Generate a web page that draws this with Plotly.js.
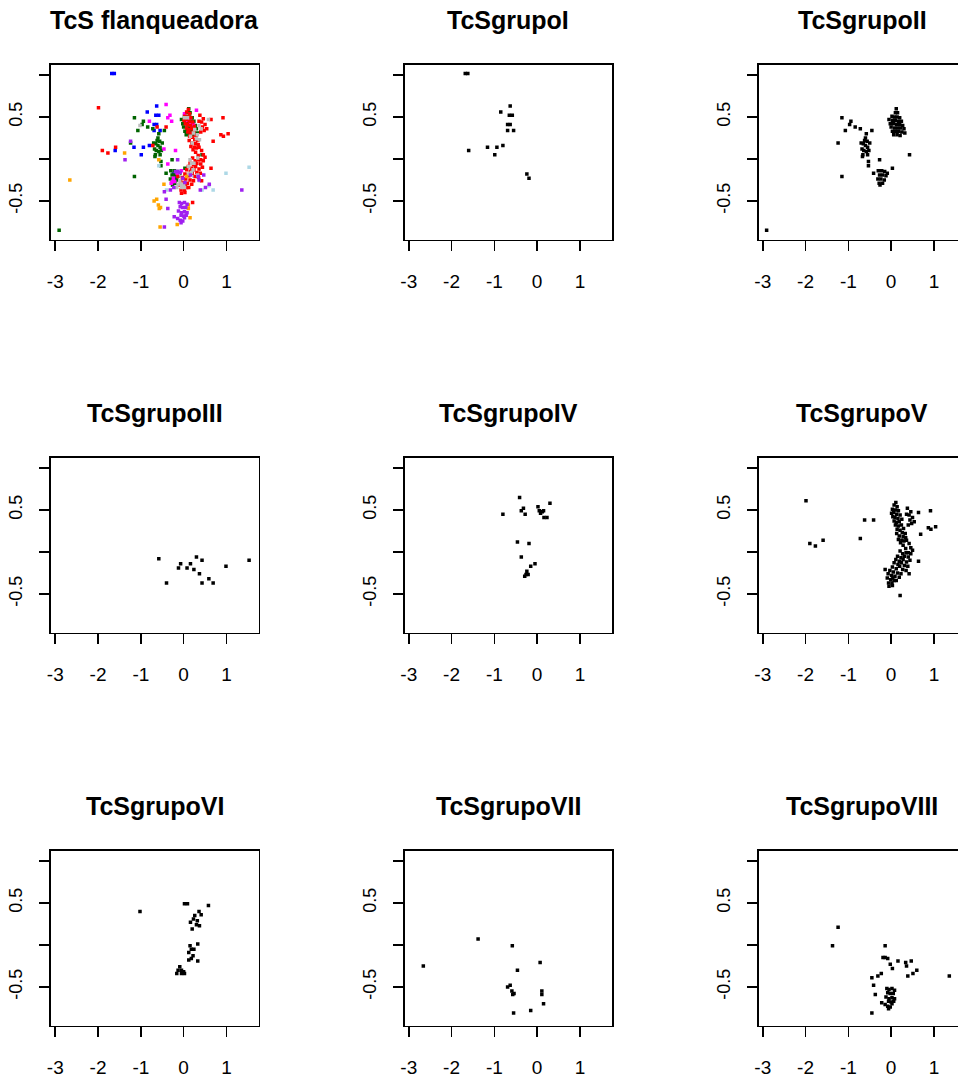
<!DOCTYPE html>
<html>
<head>
<meta charset="utf-8">
<script src="https://cdn.plot.ly/plotly-3.0.1.min.js"></script>
<style>
html, body { margin: 0; padding: 0; overflow: hidden; background: #fff; }
#chart { width: 970px; height: 1078px; }
</style>
</head>
<body>
<div id="chart"></div>
<script>
// ---------------- DATA ----------------
const panelTitles = ['TcS flanqueadora', 'TcSgrupoI', 'TcSgrupoII', 'TcSgrupoIII', 'TcSgrupoIV',
                     'TcSgrupoV', 'TcSgrupoVI', 'TcSgrupoVII', 'TcSgrupoVIII'];
const xTickVals = [-3, -2, -1, 0, 1];
const xTickText = ['-3', '-2', '-1', '0', '1'];
const yTickVals = [-0.5, 0, 0.5, 1];
const yTickText = ['-0.5', '', '0.5', ''];

// Grupo I
const xI = [-1.68, -1.62, -0.63, -0.85, -0.65, -0.58, -0.69, -0.63, -0.69, -0.55, -1.60, -1.16, -0.94, -0.80, -0.99, -0.24, -0.19];
const yI = [1.02, 1.02, 0.63, 0.56, 0.52, 0.52, 0.41, 0.41, 0.34, 0.34, 0.10, 0.14, 0.14, 0.16, 0.05, -0.18, -0.23];

// Grupo II
const xII = [-2.91, -1.15, -0.94, -0.97, -1.07, -0.84, -0.72, -0.45, -0.58, -1.24, -1.15, -0.67, -0.53, -0.53, -0.27, -0.41, 0.03, 0.43,
  -0.60, -0.65, -0.55, -0.62, -0.56, -0.68, -0.52, -0.58, -0.64, -0.70, -0.50, -0.60, -0.55, -0.66,
  -0.30, -0.22, -0.15, -0.27, -0.20, -0.12, -0.31, -0.24, -0.16, -0.28, -0.20, -0.26, -0.09,
  0.12, 0.10, 0.15, 0.02, 0.08, 0.14, 0.20, -0.05, 0.03, 0.10, 0.17, 0.24, -0.02, 0.06, 0.13, 0.20, 0.27, 0.00, 0.08, 0.15, 0.22, 0.30, 0.03, 0.10, 0.17, 0.25, 0.06, 0.14, 0.21, 0.32];
const yII = [-0.85, 0.49, 0.45, 0.41, 0.34, 0.38, 0.36, 0.34, 0.30, 0.19, -0.21, 0.03, -0.03, -0.08, -0.01, -0.17, -0.11, 0.05,
  0.16, 0.18, 0.14, 0.22, 0.21, 0.12, 0.10, 0.09, 0.10, 0.19, 0.19, 0.25, 0.05, 0.05,
  -0.14, -0.14, -0.15, -0.19, -0.19, -0.20, -0.24, -0.24, -0.25, -0.29, -0.29, -0.31, -0.17,
  0.60, 0.55, 0.55, 0.51, 0.50, 0.50, 0.49, 0.47, 0.46, 0.46, 0.45, 0.45, 0.42, 0.42, 0.41, 0.41, 0.40, 0.38, 0.37, 0.37, 0.37, 0.36, 0.33, 0.33, 0.33, 0.32, 0.29, 0.29, 0.28, 0.31];

// Grupo III
const xIII = [-0.58, -0.40, -0.12, -0.07, 0.08, 0.16, 0.30, 0.24, 0.43, 0.37, 0.43, 0.59, 0.69, 0.99, 1.53];
const yIII = [-0.08, -0.37, -0.19, -0.14, -0.19, -0.14, -0.06, -0.21, -0.10, -0.26, -0.37, -0.32, -0.37, -0.17, -0.10];

// Grupo IV
const xIV = [-0.41, 0.30, -0.80, -0.37, -0.32, -0.28, 0.02, 0.05, 0.12, 0.15, 0.16, 0.23, 0.08, -0.46, -0.19, -0.37, -0.15, -0.05, -0.24, -0.21, -0.29, -0.26];
const yIV = [0.65, 0.58, 0.45, 0.49, 0.52, 0.45, 0.54, 0.49, 0.48, 0.49, 0.41, 0.41, 0.46, 0.12, 0.10, -0.06, -0.17, -0.14, -0.23, -0.27, -0.29, -0.27];

// Grupo V
const xV = [-1.99, -1.90, -1.77, -1.59, -0.72, -0.62, -0.41,
  0.11, 0.07, 0.14, 0.03, 0.10, 0.17, 0.01, 0.06, 0.13, 0.21, 0.04, 0.09, 0.16, 0.25, 0.07, 0.12, 0.19, 0.10, 0.17, 0.24, 0.29, 0.14, 0.21, 0.26, 0.33, 0.13, 0.19, 0.28, 0.17, 0.25, 0.34, 0.22,
  0.38, 0.36, 0.42, 0.46, 0.50, 0.44, 0.54, 0.64, 0.48, 0.40,
  0.92, 0.87, 0.93, 1.04, 0.69,
  0.30, 0.36, 0.42, 0.28, 0.46, 0.34, 0.50, 0.40,
  0.21, 0.27, 0.35, 0.15, 0.23, 0.31, 0.40, 0.46, 0.11, 0.19, 0.28, 0.36, 0.44, 0.07, 0.16, 0.24, 0.31, 0.39, 0.03, 0.12, 0.20, 0.27, 0.35,
  -0.03, 0.05, 0.15, 0.23, -0.07, 0.01, 0.09, 0.19, -0.09, -0.01, 0.07, -0.06, 0.02, 0.12, -0.05, 0.03, 0.04,
  0.64, 0.42, 0.21, -0.14];
const yV = [0.61, 0.10, 0.07, 0.14, 0.16, 0.38, 0.38,
  0.59, 0.56, 0.54, 0.51, 0.50, 0.49, 0.46, 0.47, 0.45, 0.44, 0.42, 0.41, 0.40, 0.39, 0.37, 0.35, 0.36, 0.32, 0.31, 0.32, 0.28, 0.27, 0.26, 0.23, 0.22, 0.22, 0.19, 0.18, 0.15, 0.14, 0.17, 0.11,
  0.52, 0.45, 0.44, 0.48, 0.41, 0.38, 0.36, 0.47, 0.34, 0.32,
  0.49, 0.29, 0.27, 0.30, 0.21,
  0.13, 0.14, 0.10, 0.08, 0.05, 0.04, 0.02, -0.01,
  0.01, -0.02, -0.01, -0.05, -0.07, -0.05, -0.06, -0.02, -0.09, -0.11, -0.09, -0.12, -0.10, -0.13, -0.15, -0.13, -0.16, -0.17, -0.18, -0.20, -0.17, -0.21, -0.22,
  -0.22, -0.24, -0.25, -0.26, -0.26, -0.28, -0.29, -0.30, -0.31, -0.33, -0.34, -0.37, -0.37, -0.34, -0.41, -0.40, -0.31,
  -0.11, -0.26, -0.52, -0.21];

// Grupo VI
const xVI = [-1.02, 0.02, 0.09, 0.58, 0.36, 0.41, 0.26, 0.23, 0.16, 0.32, 0.30, 0.37, 0.20, 0.15, 0.18, 0.24, 0.33, 0.12, 0.22, 0.12, 0.18, 0.33, -0.09, -0.13, -0.05, 0.00, -0.16, 0.02, -0.05];
const yVI = [0.40, 0.49, 0.49, 0.47, 0.40, 0.36, 0.35, 0.31, 0.27, 0.29, 0.24, 0.23, 0.19, -0.01, -0.05, -0.05, 0.01, -0.09, -0.13, -0.18, -0.16, -0.19, -0.26, -0.30, -0.30, -0.32, -0.34, -0.34, -0.34];

// Grupo VII
const xVII = [-2.66, -1.38, -0.58, 0.07, -0.46, -0.69, -0.63, -0.59, -0.57, -0.54, 0.11, 0.11, 0.15, -0.15, -0.55];
const yVII = [-0.25, 0.07, -0.01, -0.21, -0.30, -0.50, -0.48, -0.55, -0.59, -0.58, -0.55, -0.59, -0.70, -0.78, -0.81];

// Grupo VIII
const xVIII = [-1.24, -1.37, -0.14, -0.19, -0.14, -0.08, -0.02, 0.03, 0.16, 0.34, 0.36, 0.47, 0.60, 0.51, 0.39, 1.36, -0.23, -0.31, -0.45, -0.41, -0.37, -0.45,
  -0.10, -0.05, 0.02, 0.08, -0.08, -0.02, 0.05, -0.12, -0.05, 0.02, -0.06, 0.00, 0.06, -0.22, -0.14, -0.08, -0.02, -0.06, 0.02, 0.08];
const yVIII = [0.21, -0.01, -0.01, -0.15, -0.15, -0.16, -0.23, -0.28, -0.19, -0.21, -0.25, -0.19, -0.30, -0.34, -0.37, -0.37, -0.34, -0.37, -0.39, -0.48, -0.59, -0.81,
  -0.52, -0.53, -0.52, -0.54, -0.57, -0.58, -0.58, -0.62, -0.64, -0.63, -0.67, -0.68, -0.67, -0.69, -0.71, -0.73, -0.74, -0.76, -0.70, -0.64];

const groupsX = [xI, xII, xIII, xIV, xV, xVI, xVII, xVIII];
const groupsY = [yI, yII, yIII, yIV, yV, yVI, yVII, yVIII];
const groupColors = ['#0000FF', '#006400', '#ADD8E6', '#FF00FF', '#FF0000', '#BEBEBE', '#FFA500', '#A020F0'];

// ---------------- LAYOUT ----------------
const W = 970, H = 1078;
const colLeft = [51, 404.5, 758.5];
const rowTop = [65, 458, 851];
const boxW = 207.5, boxH = 174.5;
const titleOffset = 45;
const xRange = [-3.10, 1.75];
const yRange = [-0.96, 1.12];
const font = 'Liberation Sans, Arial, sans-serif';

const traces = [];
const layout = {
  width: W, height: H,
  margin: {l: 0, r: 0, t: 0, b: 0},
  paper_bgcolor: '#fff', plot_bgcolor: '#fff',
  showlegend: false,
  annotations: []
};

for (let k = 1; k <= 9; k++) {
  const r = Math.floor((k - 1) / 3), c = (k - 1) % 3;
  const sfx = k === 1 ? '' : String(k);
  layout['xaxis' + sfx] = {
    domain: [colLeft[c] / W, (colLeft[c] + boxW) / W],
    anchor: 'y' + sfx, range: xRange,
    tickmode: 'array', tickvals: xTickVals, ticktext: xTickText, tickangle: 0,
    ticks: 'outside', ticklen: 10, tickwidth: 1.6, tickcolor: '#000',
    showline: true, linewidth: 1.8, linecolor: '#000', mirror: true,
    showgrid: false, zeroline: false, fixedrange: true,
    ticklabelstandoff: 14,
    tickfont: {family: font, size: 19, color: '#000'}
  };
  layout['yaxis' + sfx] = {
    domain: [1 - (rowTop[r] + boxH) / H, 1 - rowTop[r] / H],
    anchor: 'x' + sfx, range: yRange,
    tickmode: 'array', tickvals: yTickVals, ticktext: yTickText, tickangle: -90,
    ticks: 'outside', ticklen: 10, tickwidth: 1.6, tickcolor: '#000',
    showline: true, linewidth: 1.8, linecolor: '#000', mirror: true,
    showgrid: false, zeroline: false, fixedrange: true,
    ticklabelstandoff: 10,
    tickfont: {family: font, size: 18, color: '#000'}
  };
  layout.annotations.push({
    text: '<b>' + panelTitles[k - 1] + '</b>',
    xref: 'paper', yref: 'paper',
    x: (colLeft[c] + boxW / 2) / W, y: 1 - (rowTop[r] - titleOffset) / H,
    xanchor: 'center', yanchor: 'middle', showarrow: false,
    font: {family: font, size: 25, color: '#000'}
  });

  if (k === 1) {
    for (let g = 0; g < 8; g++) {
      traces.push({
        type: 'scatter', mode: 'markers', x: groupsX[g], y: groupsY[g],
        xaxis: 'x', yaxis: 'y',
        marker: {symbol: 'square', size: 3.5, color: groupColors[g], line: {width: 0}},
        hoverinfo: 'skip'
      });
    }
  } else {
    traces.push({
      type: 'scatter', mode: 'markers', x: groupsX[k - 2], y: groupsY[k - 2],
      xaxis: 'x' + sfx, yaxis: 'y' + sfx,
      marker: {symbol: 'square', size: 3.5, color: '#000', line: {width: 0}},
      hoverinfo: 'skip'
    });
  }
}

Plotly.newPlot('chart', traces, layout, {displayModeBar: false, staticPlot: true});
</script>
</body>
</html>
